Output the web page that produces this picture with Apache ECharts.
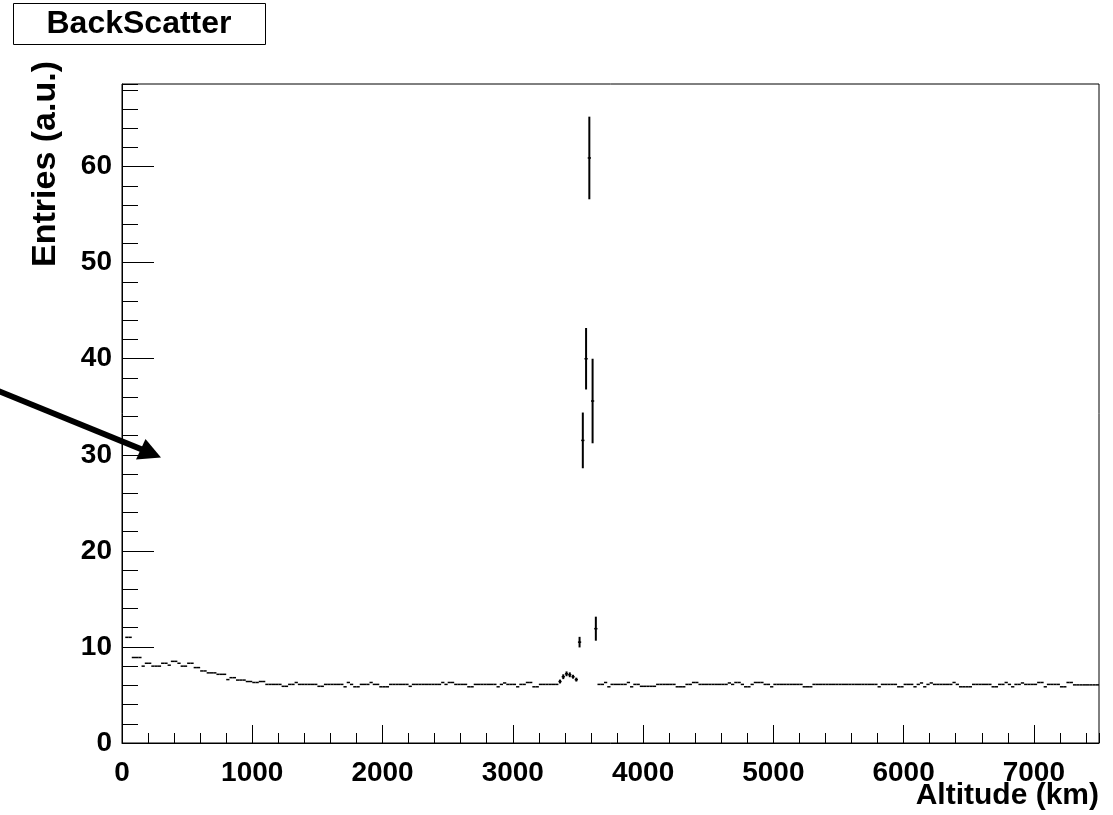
<!DOCTYPE html>
<html><head><meta charset="utf-8">
<script src="https://cdn.jsdelivr.net/npm/echarts@6/dist/echarts.min.js"></script>
<style>html,body{margin:0;padding:0;background:#fff}#c{width:1113px;height:815px}</style>
</head><body><div id="c"></div>
<script>
// ---- data (histogram, 25 km bins starting at 0 km) ----
const titleText = 'BackScatter';
const xTitle = 'Altitude (km)';
const yTitle = 'Entries (a.u.)';
const binWidth = 25;            // km
const xMin = 0, xMax = 7500, xMajor = 1000, xMinor = 200;
const yMin = 0, yMax = 68.6, yMajor = 10, yMinor = 2;

// bins 0..65 (0 - 1650 km)
const lowAltValues = [null, 11.0, 11.0, 8.9, 8.9, 8.9, 8.0, 8.3, 8.3, 8.0,
  8.0, 8.0, 8.3, 8.3, 8.1, 8.5, 8.5, 8.3, 8.0, 8.0,
  8.3, 8.3, 7.85, 7.85, 7.5, 7.5, 7.3, 7.3, 7.3, 7.15,
  7.15, 7.15, 6.6, 6.8, 6.8, 6.55, 6.55, 6.55, 6.4, 6.4,
  6.3, 6.3, 6.4, 6.4, 6.1, 6.1, 6.1, 6.1, 6.1, 5.9,
  5.9, 6.1, 6.1, 6.3, 6.1, 6.1, 6.1, 6.1, 6.1, 6.1,
  5.9, 5.9, 6.1, 6.1, 6.1, 6.1];
// bins 66..133 (1650 - 3350 km)
const midAltValues = [6.1, 6.1, 5.85, 6.3, 6.1, 5.85, 5.85, 6.1, 6.1, 6.1,
  6.3, 6.1, 6.1, 5.85, 5.85, 5.85, 6.1, 6.1, 6.1, 6.1,
  6.1, 6.1, 5.9, 6.1, 6.1, 6.1, 6.1, 6.1, 6.1, 6.1,
  6.1, 6.1, 6.3, 6.1, 6.3, 6.3, 6.1, 6.1, 6.1, 6.1,
  5.85, 5.85, 6.1, 6.1, 6.1, 6.1, 6.1, 6.1, 6.1, 5.85,
  6.1, 6.25, 6.1, 6.1, 6.1, 5.85, 6.1, 6.1, 6.3, 6.3,
  5.85, 5.85, 6.1, 6.1, 6.1, 6.1, 6.1, 6.1];
// bins 134..145 (3350 - 3650 km), with error bars
const peakValues = [6.4, 6.9, 7.2, 7.1, 6.9, 6.6, 10.5, 31.5, 40.0, 60.9, 35.6, 11.9];
const peakErrors = [0.2, 0.25, 0.25, 0.25, 0.2, 0.2, 0.55, 2.9, 3.2, 4.3, 4.4, 1.25];
const peakStartBin = 134;
// bins 146..299 (3650 - 7500 km)
const highAltValues = [6.1, 6.1, 6.3, 5.85, 6.1, 6.1, 6.1, 6.1, 6.1, 6.3,
  5.85, 6.1, 6.1, 5.9, 5.9, 5.9, 5.9, 5.9, 6.1, 6.1,
  6.1, 6.1, 6.1, 6.1, 5.85, 5.85, 5.85, 6.1, 6.1, 6.3,
  6.3, 6.1, 6.1, 6.1, 6.1, 6.1, 6.1, 6.1, 6.1, 6.1,
  6.25, 6.1, 6.3, 6.3, 6.1, 5.85, 5.85, 6.1, 6.3, 6.3,
  6.3, 6.1, 6.1, 5.85, 6.1, 6.1, 6.1, 6.1, 6.1, 6.1,
  6.1, 6.1, 6.1, 5.85, 5.85, 5.85, 6.1, 6.1, 6.1, 6.1,
  6.1, 6.1, 6.1, 6.1, 6.1, 6.1, 6.1, 6.1, 6.1, 6.1,
  6.1, 6.1, 6.1, 6.1, 6.1, 6.1, 5.85, 6.1, 6.1, 6.1,
  6.1, 6.1, 5.85, 5.85, 6.1, 6.1, 6.1, 5.85, 6.1, 6.25,
  5.85, 6.1, 6.25, 6.1, 6.1, 6.1, 6.1, 6.1, 6.1, 6.3,
  6.1, 5.85, 5.85, 5.85, 5.85, 6.1, 6.1, 6.1, 6.1, 6.1,
  6.1, 5.85, 5.85, 6.1, 6.1, 6.3, 6.1, 5.85, 6.1, 6.1,
  6.25, 6.1, 6.1, 6.1, 6.1, 6.3, 6.3, 5.85, 6.1, 6.1,
  6.1, 6.1, 5.85, 5.85, 6.3, 6.3, 6.05, 6.05, 6.05, 6.05,
  6.05, 6.05, 6.05, 6.05];

// ---- build histogram items [lowEdge, highEdge, value, error] ----
const allValues = lowAltValues.concat(midAltValues, peakValues, highAltValues);
const histData = [];
allValues.forEach(function (v, i) {
  if (v === null) return;
  const k = i - peakStartBin;
  const err = (k >= 0 && k < peakErrors.length) ? peakErrors[k] : 0;
  histData.push([i * binWidth, (i + 1) * binWidth, v, err]);
});

const FONT = "'Liberation Sans', Arial, Helvetica, sans-serif";
const chart = echarts.init(document.getElementById('c'), null, {renderer: 'canvas'});
const plain = function (v) { return String(v); };

const option = {
  animation: false,
  backgroundColor: '#fff',
  grid: {left: 122, right: 14, top: 84, bottom: 72, show: true, borderColor: '#000', borderWidth: 1, backgroundColor: 'transparent'},
  xAxis: [
    {type: 'value', min: xMin, max: xMax, interval: xMajor, position: 'bottom',
     axisLine: {show: true, onZero: false, lineStyle: {color: '#000', width: 1}},
     axisTick: {show: true, inside: true, length: 18, lineStyle: {color: '#000', width: 1}},
     axisLabel: {show: true, showMaxLabel: false, margin: 16, formatter: plain, color: '#000', fontFamily: FONT, fontWeight: 'bold', fontSize: 28},
     splitLine: {show: false}},
    {type: 'value', min: xMin, max: xMax, interval: xMinor, position: 'bottom',
     axisLine: {show: false, onZero: false},
     axisTick: {show: true, inside: true, length: 10, lineStyle: {color: '#000', width: 1}},
     axisLabel: {show: false}, splitLine: {show: false}}
  ],
  yAxis: [
    {type: 'value', min: yMin, max: yMax, interval: yMajor, position: 'left',
     axisLine: {show: true, onZero: false, lineStyle: {color: '#000', width: 1}},
     axisTick: {show: true, inside: true, length: 32, lineStyle: {color: '#000', width: 1}},
     axisLabel: {show: true, showMaxLabel: false, margin: 10, formatter: plain, color: '#000', fontFamily: FONT, fontWeight: 'bold', fontSize: 28},
     splitLine: {show: false}},
    {type: 'value', min: yMin, max: yMax, interval: yMinor, position: 'left',
     axisLine: {show: false, onZero: false},
     axisTick: {show: true, inside: true, length: 16, lineStyle: {color: '#000', width: 1}},
     axisLabel: {show: false}, splitLine: {show: false}}
  ],
  series: [{
    type: 'custom',
    coordinateSystem: 'cartesian2d',
    xAxisIndex: 0, yAxisIndex: 0,
    data: histData,
    encode: {x: [0, 1], y: 2},
    clip: true,
    renderItem: function (params, api) {
      const x0 = api.value(0), x1 = api.value(1), y = api.value(2), e = api.value(3);
      const a = api.coord([x0, y]);
      const b = api.coord([x1, y]);
      const xc = api.coord([(x0 + x1) / 2, y])[0];
      const children = [{
        type: 'line',
        shape: {x1: a[0], y1: a[1], x2: b[0], y2: b[1]},
        style: {stroke: '#000', lineWidth: 1.5}
      }];
      if (e > 0) {
        const top = api.coord([(x0 + x1) / 2, y + e])[1];
        const bot = api.coord([(x0 + x1) / 2, y - e])[1];
        children.push({
          type: 'line',
          shape: {x1: xc, y1: top, x2: xc, y2: bot},
          style: {stroke: '#000', lineWidth: 2}
        });
      }
      return {type: 'group', children: children};
    }
  }],
  graphic: [
    {type: 'rect', left: 13, top: 3, shape: {width: 252, height: 41},
     style: {fill: '#fff', stroke: '#000', lineWidth: 1}},
    {type: 'text', x: 139, y: 24,
     style: {text: titleText, fontFamily: FONT, fontWeight: 'bold', fontSize: 32, fill: '#000', align: 'center', verticalAlign: 'middle'}},
    {type: 'text', x: 1099, y: 796,
     style: {text: xTitle, fontFamily: FONT, fontWeight: 'bold', fontSize: 30, fill: '#000', align: 'right', verticalAlign: 'middle'}},
    {type: 'text', x: 46, y: 61, rotation: Math.PI / 2,
     style: {text: yTitle, fontFamily: FONT, fontWeight: 'bold', fontSize: 34, fill: '#000', align: 'right', verticalAlign: 'middle'}},
    // annotation arrow
    {type: 'line', shape: {x1: -4, y1: 390, x2: 142, y2: 449.5},
     style: {stroke: '#000', lineWidth: 6}},
    {type: 'polygon', shape: {points: [[161, 457.5], [145.5, 439], [136, 459.5]]},
     style: {fill: '#000'}}
  ]
};
chart.setOption(option);
</script></body></html>
